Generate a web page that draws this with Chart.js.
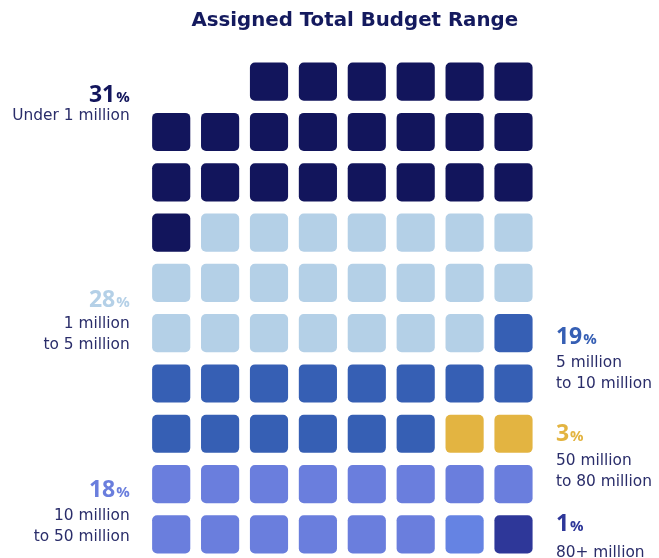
<!DOCTYPE html>
<html>
<head>
<meta charset="utf-8">
<title>Assigned Total Budget Range</title>
<script src="https://cdn.jsdelivr.net/npm/chart.js@4/dist/chart.umd.min.js"></script>
<style>
  html, body { margin: 0; padding: 0; background: #ffffff; }
  #waffle { display: block; }
</style>
</head>
<body>
<canvas id="waffle" width="659" height="558"></canvas>
<script>
// ------------ Data ------------
const chartTitle = 'Assigned Total Budget Range';
const rangeLabels = [
  ['Under 1 million'],
  ['1 million', 'to 5 million'],
  ['5 million', 'to 10 million'],
  ['50 million', 'to 80 million'],
  ['10 million', 'to 50 million'],
  [],
  ['80+ million']
];
const rangeShares = [31, 28, 19, 3, 18, null, 1];   // percent shown next to each range
const rangeCells = [23, 22, 15, 2, 14, 1, 1];       // squares per range, filled row by row
const rangeColors = ['#12155c', '#b4d0e7', '#365fb4', '#e3b441', '#6a7edd', '#6583e3', '#2e3799'];

const columnLabels = ['1', '2', '3', '4', '5', '6', '7', '8'];
const rowValues = [1, 2, 3, 4, 5, 6, 7, 8, 9, 10];
const emptySlots = 2;   // gaps at the start of the first row

// ------------ Layout ------------
const textColor = '#2a2d6a';
const cellHeight = 0.746;  // in row units
const labelPlaces = [
  { side: 'left',  y: 1.40, gap: 18 },
  { side: 'left',  y: 5.48, gap: 20.5 },
  { side: 'right', y: 6.21, gap: 23.5 },
  { side: 'right', y: 8.14, gap: 24 },
  { side: 'left',  y: 9.25, gap: 23.3 },
  null,
  { side: 'right', y: 9.93, gap: 26 }
];

// colour of every slot, in reading order
const slotColors = [];
for (let i = 0; i < emptySlots; i++) slotColors.push(null);
rangeCells.forEach((qtd, k) => {
  for (let i = 0; i < qtd; i++) slotColors.push(rangeColors[k]);
});

// one dataset per row, floating bars spanning the cell height
const datasets = rowValues.map((row, r) => {
  const half = cellHeight / 2;
  const data = columnLabels.map((_, c) => {
    const cor = slotColors[r * columnLabels.length + c];
    return cor ? [row - half, row + half] : null;
  });
  const colors = columnLabels.map((_, c) => slotColors[r * columnLabels.length + c] || 'rgba(0,0,0,0)');
  return {
    data: data,
    backgroundColor: colors,
    borderRadius: 5,
    borderSkipped: false,
    barThickness: 37.5,
    grouped: false
  };
});

// ------------ Texts ------------
const textPlugin = {
  id: 'waffleTexts',
  afterDraw(chart) {
    const ctx = chart.ctx;
    const area = chart.chartArea;
    const yScale = chart.scales.y;
    ctx.save();

    ctx.fillStyle = '#141a5e';
    ctx.font = 'bold 19.8px "DejaVu Sans"';
    ctx.textAlign = 'center';
    ctx.textBaseline = 'alphabetic';
    ctx.fillText(chartTitle, area.left + 208, 26);

    rangeShares.forEach((share, k) => {
      const place = labelPlaces[k];
      if (share === null || !place) return;
      const y = yScale.getPixelForValue(place.y);
      const left = place.side === 'left';
      const x = left ? area.left - 17 : area.right + 18;

      const numFont = 'bold 23px "Open Sans"';
      const pctFont = 'bold 15px "Open Sans"';
      ctx.font = numFont;
      const wNum = ctx.measureText(String(share)).width;
      ctx.font = pctFont;
      const wPct = ctx.measureText('%').width;
      const start = left ? x - wNum - wPct - 1 : x;

      ctx.textAlign = 'left';
      ctx.fillStyle = rangeColors[k];
      ctx.font = numFont;
      ctx.fillText(String(share), start, y);
      ctx.font = pctFont;
      ctx.fillText('%', start + wNum + 1, y);

      ctx.font = '15.4px "DejaVu Sans"';
      ctx.fillStyle = textColor;
      ctx.textAlign = left ? 'right' : 'left';
      rangeLabels[k].forEach((linha, i) => {
        ctx.fillText(linha, x, y + place.gap + i * 21);
      });
    });

    ctx.restore();
  }
};

// ------------ Chart ------------
new Chart(document.getElementById('waffle'), {
  type: 'bar',
  data: { labels: columnLabels, datasets: datasets },
  options: {
    responsive: false,
    animation: false,
    layout: { padding: { left: 146.75, right: 121.05, top: 56.55, bottom: 0 } },
    scales: {
      x: { display: false },
      y: { display: false, min: 0.5, max: 10.47, reverse: true }
    },
    plugins: {
      legend: { display: false },
      tooltip: { enabled: false },
      title: { display: false }
    }
  },
  plugins: [textPlugin]
});
</script>
</body>
</html>
